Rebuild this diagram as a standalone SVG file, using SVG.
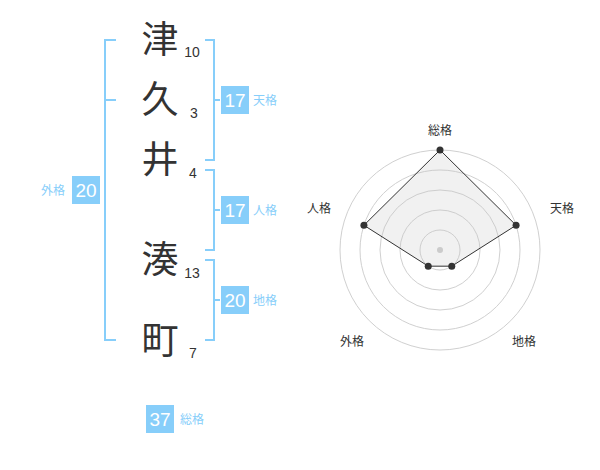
<svg xmlns="http://www.w3.org/2000/svg" width="600" height="470" viewBox="0 0 600 470">
<style>
.k{font-family:"Noto Sans CJK JP","Noto Sans CJK SC",sans-serif;font-size:37px;fill:#333;text-anchor:middle}
.n{font-family:"Liberation Sans",Arial,sans-serif;font-size:14px;fill:#333;text-anchor:middle}
.br{fill:none;stroke:#87cefa;stroke-width:2}
.bx{fill:#87cefa}
.bn{font-family:"Liberation Sans",Arial,sans-serif;font-size:19px;fill:#fff;text-anchor:middle}
.bl{font-family:"Noto Sans CJK JP","Noto Sans CJK SC",sans-serif;font-size:12px;fill:#87cefa}
.rl{font-family:"Noto Sans CJK JP","Noto Sans CJK SC",sans-serif;font-size:12px;fill:#333;text-anchor:middle}
.ring{fill:none;stroke:#d0d0d0;stroke-width:1}
.pt{fill:#333}
</style>
<rect width="600" height="470" fill="#fff"/>
<g id="chars">
<text class="k" x="160" y="53">津</text>
<text class="k" x="160" y="113">久</text>
<text class="k" x="160" y="173">井</text>
<text class="k" x="160" y="273">湊</text>
<text class="k" x="160" y="354">町</text>
<text class="n" x="192" y="57">10</text>
<text class="n" x="194" y="118">3</text>
<text class="n" x="193" y="178">4</text>
<text class="n" x="192" y="278">13</text>
<text class="n" x="193" y="358">7</text>
</g>
<g id="connectors">
<path class="br" d="M116,40 H105 V340 H116 M105,100 H116"/>
<path class="br" d="M205,40 H214 V160 H205 M214,100 H220"/>
<path class="br" d="M205,170 H214 V250 H205 M214,210 H220"/>
<path class="br" d="M205,260 H214 V340 H205 M214,300 H220"/>
</g>
<g id="tenkaku">
<rect class="bx" x="221" y="86" width="28" height="28"/>
<text class="bn" x="235" y="107">17</text>
<text class="bl" x="253" y="105">天格</text>
</g>
<g id="jinkaku">
<rect class="bx" x="221" y="196" width="28" height="28"/>
<text class="bn" x="235" y="217">17</text>
<text class="bl" x="253" y="215">人格</text>
</g>
<g id="chikaku">
<rect class="bx" x="221" y="286" width="28" height="28"/>
<text class="bn" x="235" y="307">20</text>
<text class="bl" x="253" y="305">地格</text>
</g>
<g id="gaikaku">
<rect class="bx" x="72" y="176" width="28" height="28"/>
<text class="bn" x="86" y="197">20</text>
<text class="bl" x="41" y="195">外格</text>
</g>
<g id="soukaku">
<rect class="bx" x="146" y="405" width="28" height="28"/>
<text class="bn" x="160" y="426">37</text>
<text class="bl" x="180" y="424">総格</text>
</g>
<g id="radar">
<circle class="ring" cx="440" cy="250" r="20"/>
<circle class="ring" cx="440" cy="250" r="40"/>
<circle class="ring" cx="440" cy="250" r="60"/>
<circle class="ring" cx="440" cy="250" r="80"/>
<circle class="ring" cx="440" cy="250" r="100"/>
<circle cx="440" cy="250" r="3" fill="#ccc"/>
<polygon points="440,150 516.08,225.28 451.76,266.18 428.24,266.18 363.92,225.28" fill="rgba(200,200,200,0.25)" stroke="#333" stroke-width="1"/>
<circle class="pt" cx="440" cy="150" r="3.5"/>
<circle class="pt" cx="516.08" cy="225.28" r="3.5"/>
<circle class="pt" cx="451.76" cy="266.18" r="3.5"/>
<circle class="pt" cx="428.24" cy="266.18" r="3.5"/>
<circle class="pt" cx="363.92" cy="225.28" r="3.5"/>
<text class="rl" x="440" y="135">総格</text>
<text class="rl" x="562" y="213">天格</text>
<text class="rl" x="319" y="213">人格</text>
<text class="rl" x="352" y="346">外格</text>
<text class="rl" x="524" y="346">地格</text>
</g>
</svg>
